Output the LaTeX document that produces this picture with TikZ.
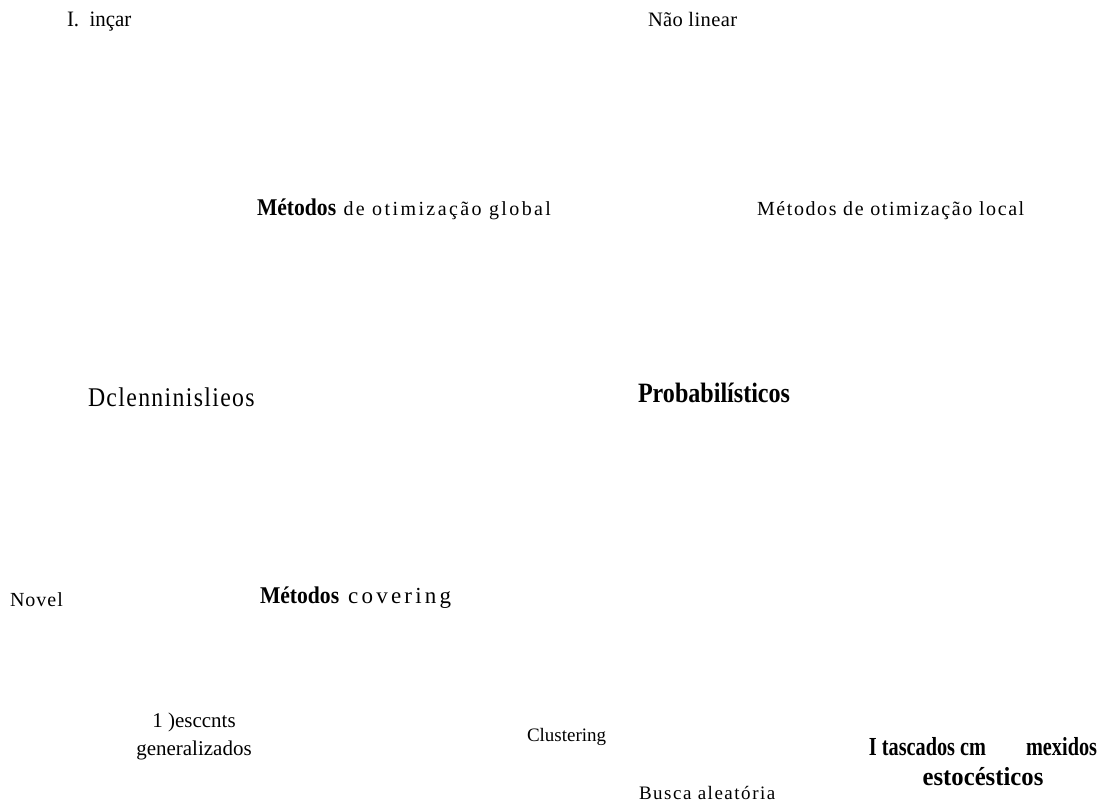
\documentclass[tikz,border=0pt]{standalone}
\usepackage{fontspec}
\setmainfont{Liberation Serif}
% regular faces with different tracking
\newfontfamily\trackXS[LetterSpace=2]{Liberation Serif}
\newfontfamily\trackS[LetterSpace=5]{Liberation Serif}
\newfontfamily\trackM[LetterSpace=8]{Liberation Serif}
\newfontfamily\trackL[LetterSpace=12]{Liberation Serif}
\newfontfamily\trackXL[LetterSpace=14]{Liberation Serif}
\newfontfamily\tallfont[FakeStretch=0.88,LetterSpace=5]{Liberation Serif}
\newfontfamily\linfont[FakeStretch=0.95]{Liberation Serif}
% condensed bold faces
\newfontfamily\boldA[FakeStretch=0.9]{Liberation Serif Bold}
\newfontfamily\boldP[FakeStretch=0.86]{Liberation Serif Bold}
\newfontfamily\boldC[FakeStretch=0.78]{Liberation Serif Bold}
\newfontfamily\boldD[FakeStretch=0.95]{Liberation Serif Bold}
\newcommand\mhead{{\boldA\fontsize{24}{26}\selectfont Métodos}}
\begin{document}
\begin{tikzpicture}[x=1pt,y=-1pt,
  every node/.style={inner sep=0pt,outer sep=0pt,anchor=mid west},
  twoline/.style={align=center,anchor=center}]
\useasboundingbox (0,0) rectangle (1101,802);

% upper classification
\node[font=\linfont\fontsize{22}{24}\selectfont] (lin) at (67,24) {I.\ \ inçar};
\node[font=\trackXS\fontsize{20.5}{22}\selectfont] (nlin) at (648,24) {Não linear};
\node[font=\trackL\fontsize{20}{22}\selectfont] (glob) at (257,213) {\mhead\ de otimização global};
\node[font=\trackM\fontsize{20}{22}\selectfont] (loc) at (757,213) {Métodos de otimização local};

% global methods
\node[font=\tallfont\fontsize{27}{29}\selectfont] (det) at (88,404) {Dclenninislieos};
\node[font=\boldP\fontsize{28}{30}\selectfont] (prob) at (638,400) {Probabilísticos};

% deterministic branch
\node[font=\trackS\fontsize{20}{22}\selectfont] (nov) at (10,604) {Novel};
\node[font=\trackXL\fontsize{23}{25}\selectfont] (cov) at (260,601) {\mhead\ covering};
\node[twoline,font=\fontsize{21}{28}\selectfont] (desc) at (194,736) {1 )esccnts\\generalizados};
\node[font=\fontsize{19}{21}\selectfont] (clu) at (527,739) {Clustering};

% probabilistic branch
\node[font=\trackM\fontsize{19}{21}\selectfont] (rand) at (639,797.5) {Busca aleatória};
\node[twoline,font=\fontsize{26}{30}\selectfont] (stoc) at (983,762)
  {{\boldC I tascados cm\hspace{40pt}mexidos}\\
   {\boldD estocésticos}};
\end{tikzpicture}
\end{document}
